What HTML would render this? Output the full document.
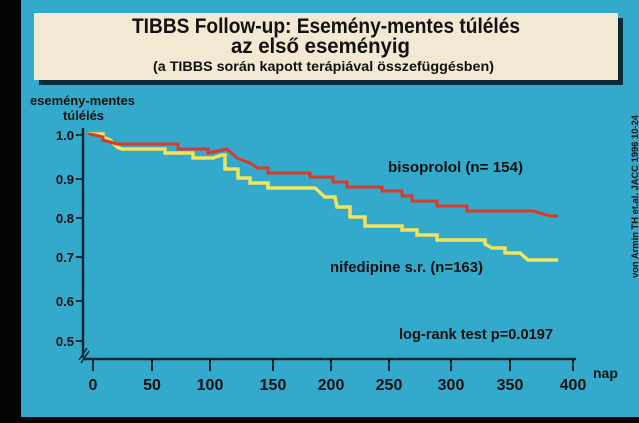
<!DOCTYPE html>
<html><head><meta charset="utf-8"><style>
body{margin:0;width:639px;height:423px;overflow:hidden;background:#000;font-family:"Liberation Sans",sans-serif;}
</style></head><body>
<svg width="639" height="423" xmlns="http://www.w3.org/2000/svg" style="position:absolute;left:0;top:0">
<rect x="0" y="0" width="639" height="423" fill="#050505"/>
<rect x="21" y="0" width="618" height="417" fill="#33a9cc"/>
<rect x="39" y="18" width="584" height="67" fill="#0a2a38"/>
<rect x="34" y="13" width="584" height="67" fill="#f3e8d2"/>
<g font-weight="bold" fill="#111">
<text x="132" y="33" font-size="21" textLength="388" lengthAdjust="spacingAndGlyphs">TIBBS Follow-up: Esemény-mentes túlélés</text>
<text x="231" y="53" font-size="21" textLength="179" lengthAdjust="spacingAndGlyphs">az első eseményig</text>
<text x="153" y="71" font-size="14" textLength="341" lengthAdjust="spacingAndGlyphs">(a TIBBS során kapott terápiával összefüggésben)</text>
<text x="30" y="105" font-size="12.5" textLength="105" lengthAdjust="spacingAndGlyphs">esemény-mentes</text>
<text x="63" y="120" font-size="12.5" textLength="41" lengthAdjust="spacingAndGlyphs">túlélés</text>
</g>
<g stroke="#0b2a30" stroke-width="2.5" fill="none">
<line x1="83" y1="128" x2="83" y2="358"/>
<line x1="84" y1="359" x2="576" y2="359"/>
<line x1="79" y1="360" x2="87" y2="348" stroke-width="1.5"/>
<line x1="81" y1="363" x2="89" y2="351" stroke-width="1.5"/>
<g stroke-width="2">
<line x1="76" y1="135" x2="83" y2="135"/><line x1="76" y1="179" x2="83" y2="179"/>
<line x1="76" y1="218" x2="83" y2="218"/><line x1="76" y1="257" x2="83" y2="257"/>
<line x1="76" y1="301" x2="83" y2="301"/><line x1="76" y1="341" x2="83" y2="341"/>
<line x1="93" y1="359" x2="93" y2="371"/><line x1="152" y1="359" x2="152" y2="371"/>
<line x1="210" y1="359" x2="210" y2="371"/><line x1="273" y1="359" x2="273" y2="371"/>
<line x1="331" y1="359" x2="331" y2="371"/><line x1="389" y1="359" x2="389" y2="371"/>
<line x1="451" y1="359" x2="451" y2="371"/><line x1="510" y1="359" x2="510" y2="371"/>
<line x1="573" y1="359" x2="573" y2="371"/>
</g></g>
<g font-weight="bold" fill="#111" font-size="13" text-anchor="end">
<text x="74" y="140">1.0</text><text x="74" y="184">0.9</text><text x="74" y="223">0.8</text>
<text x="74" y="262">0.7</text><text x="74" y="306">0.6</text><text x="74" y="346">0.5</text>
</g>
<g font-weight="bold" fill="#111" font-size="16" text-anchor="middle">
<text x="93" y="390">0</text><text x="152" y="390">50</text><text x="210" y="390">100</text>
<text x="273" y="390">150</text><text x="331" y="390">200</text><text x="389" y="390">250</text>
<text x="451" y="390">300</text><text x="510" y="390">350</text><text x="573" y="390">400</text>
</g>
<g font-weight="bold" fill="#111">
<text x="593" y="378" font-size="14">nap</text>
<text x="388" y="172" font-size="15" textLength="135" lengthAdjust="spacingAndGlyphs">bisoprolol  (n= 154)</text>
<text x="330" y="272" font-size="15" textLength="153" lengthAdjust="spacingAndGlyphs">nifedipine s.r. (n=163)</text>
<text x="399" y="339" font-size="15" textLength="154" lengthAdjust="spacingAndGlyphs">log-rank test p=0.0197</text>
<text transform="translate(638,278) rotate(-90)" font-size="9" textLength="163" lengthAdjust="spacingAndGlyphs">von Armin TH et.al. JACC 1996 10-24</text>
</g>
<polyline fill="none" stroke="#f2e45a" stroke-width="3.5" points="88,134 103,134 103,137 110,140 117,147 122,149 165,149 165,153 193,153 193,158 213,158 222,155 225,155 225,169 238,169 238,178 250,178 250,183 268,183 268,188 315,188 325,197 335,197 337,207 350,207 350,217 365,217 365,226 402,226 402,230 417,230 417,235 437,235 437,240 485,240 485,244 492,248 505,248 505,253 520,253 528,260 558,260"/>
<polyline fill="none" stroke="#d93a2a" stroke-width="3" points="88,134 95,135 103,137 103,140 117,144 178,144 178,149 208,149 208,153 227,149 237,158 250,163 258,168 268,168 268,173 310,173 310,177 333,177 333,182 347,182 347,187 382,187 382,191 402,191 402,196 412,196 412,201 437,201 437,206 467,206 467,211 533,211 550,216 558,216"/>
</svg>
</body></html>
